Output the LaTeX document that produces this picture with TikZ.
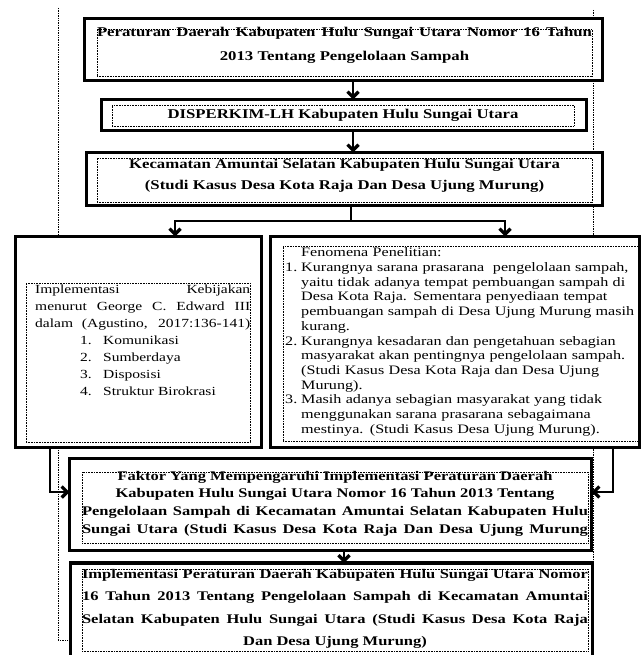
\documentclass[tikz,border=0pt]{standalone}
\usepackage{fontspec}
\setmainfont{Liberation Serif}[FakeStretch=1.25]
\usetikzlibrary{arrows.meta,calc}
\newcommand{\jline}[2]{\makebox[#1][s]{\spaceskip=.25em plus 1fil minus .05em\relax #2}}
\begin{document}
\begin{tikzpicture}[x=1pt,y=-1pt,
  boxfr/.style={draw, line width=3.1pt, fill=white, inner sep=0pt, outer sep=0pt},
  dotfr/.style={draw, line width=0.7pt, dash pattern=on 0.7pt off 0.9pt, inner sep=0pt, outer sep=0pt},
  guide/.style={line width=0.8pt, dash pattern=on 0.8pt off 0.9pt},
  conn/.style={line width=2.8pt},
  arr/.style={line width=2.8pt, -{Straight Barb[length=5.5pt,width=11pt,line width=3.2pt]}},
  btext/.style={font=\bfseries\fontsize{13.4}{24}\selectfont, align=center, inner sep=0pt},
  ntext/.style={align=left, inner sep=0pt, anchor=west}
]
\useasboundingbox (0,0) rectangle (643,655);

% outer dotted guide lines (behind)
\coordinate (gl0) at (58,8);
\coordinate (gl1) at (58,640);
\coordinate (gr0) at (593,10);
\coordinate (gr1) at (593,563);

% boxes
\node[boxfr, minimum width=518pt, minimum height=62pt] (b1) at (343.5,49.5) {};
\node[boxfr, minimum width=485pt, minimum height=31pt] (b2) at (344,115) {};
\node[boxfr, minimum width=516pt, minimum height=53pt] (b3) at (344.5,179) {};
\node[boxfr, minimum width=246pt, minimum height=211pt] (bl) at (138.5,342) {};
\node[boxfr, minimum width=369pt, minimum height=211pt] (br) at (455,342) {};
\node[boxfr, minimum width=522pt, minimum height=92pt] (b5) at (330.5,504.5) {};
\node[boxfr, minimum width=522pt, minimum height=94pt] (b6) at (331.5,610) {};

\draw[guide] (gl0) -- (gl1) -- (b6.west |- gl1);
\draw[guide] (gr0) -- (gr1);
% redraw boxes over guides
\node[boxfr, minimum width=518pt, minimum height=62pt] at (343.5,49.5) {};
\node[boxfr, minimum width=485pt, minimum height=31pt] at (344,115) {};
\node[boxfr, minimum width=516pt, minimum height=53pt] at (344.5,179) {};
\node[boxfr, minimum width=246pt, minimum height=211pt] at (138.5,342) {};
\node[boxfr, minimum width=369pt, minimum height=211pt] at (455,342) {};
\node[boxfr, minimum width=522pt, minimum height=92pt] at (330.5,504.5) {};
\node[boxfr, minimum width=522pt, minimum height=94pt] at (331.5,610) {};

% inner dotted frames
\node[dotfr, minimum width=495pt, minimum height=47pt] (f1) at (344.5,52.5) {};
\node[dotfr, minimum width=462pt, minimum height=21pt] (f2) at (343,115.5) {};
\node[dotfr, minimum width=495pt, minimum height=44pt] (f3) at (344.5,180) {};
\node[dotfr, minimum width=224pt, minimum height=159pt] (fl) at (138,362.5) {};
\node[dotfr, minimum width=355pt, minimum height=195pt] (fr) at (460.5,343.5) {};
\node[dotfr, minimum width=506pt, minimum height=71pt] (f5) at (335,507.5) {};
\node[dotfr, minimum width=506pt, minimum height=82pt] (f6) at (335,610) {};

% texts
\node[btext] (t1) at (344.5,45) {\jline{495pt}{Peraturan Daerah Kabupaten Hulu Sungai Utara Nomor 16 Tahun}\\2013 Tentang Pengelolaan Sampah};
\node[btext] (t2) at (343,115) {DISPERKIM-LH Kabupaten Hulu Sungai Utara};
\node[btext, font=\bfseries\fontsize{13.4}{21}\selectfont] (t3) at (344.5,175.5) {Kecamatan Amuntai Selatan Kabupaten Hulu Sungai Utara\\(Studi Kasus Desa Kota Raja Dan Desa Ujung Murung)};

\node[ntext, text width=215pt, font=\fontsize{12.4}{17}\selectfont] (tl) at (35,340) {%
\jline{215pt}{Implementasi Kebijakan}\\
\jline{215pt}{menurut George C. Edward III}\\
\jline{215pt}{dalam (Agustino, 2017:136-141)}\\
\hspace*{45pt}\makebox[23pt][l]{1.}Komunikasi\\
\hspace*{45pt}\makebox[23pt][l]{2.}Sumberdaya\\
\hspace*{45pt}\makebox[23pt][l]{3.}Disposisi\\
\hspace*{45pt}\makebox[23pt][l]{4.}Struktur Birokrasi};

\node[ntext, text width=356pt, font=\fontsize{12.9}{14.7}\selectfont] (tr) at (285,342) {%
\hspace*{16pt}Fenomena Penelitian:\\
\makebox[16pt][l]{1.}Kurangnya sarana prasarana\ \ pengelolaan sampah,\\
\hspace*{16pt}yaitu tidak adanya tempat pembuangan sampah di\\
\hspace*{16pt}Desa Kota Raja. Sementara penyediaan tempat\\
\hspace*{16pt}pembuangan sampah di Desa Ujung Murung masih\\
\hspace*{16pt}kurang.\\
\makebox[16pt][l]{2.}Kurangnya kesadaran dan pengetahuan sebagian\\
\hspace*{16pt}masyarakat akan pentingnya pengelolaan sampah.\\
\hspace*{16pt}(Studi Kasus Desa Kota Raja dan Desa Ujung\\
\hspace*{16pt}Murung).\\
\makebox[16pt][l]{3.}Masih adanya sebagian masyarakat yang tidak\\
\hspace*{16pt}menggunakan sarana prasarana sebagaimana\\
\hspace*{16pt}mestinya. (Studi Kasus Desa Ujung Murung).};

\node[btext, font=\bfseries\fontsize{13.2}{17.7}\selectfont] (t5) at (335,503.5) {%
Faktor Yang Mempengaruhi Implementasi Peraturan Daerah\\
Kabupaten Hulu Sungai Utara Nomor 16 Tahun 2013 Tentang\\
\jline{506pt}{Pengelolaan Sampah di Kecamatan Amuntai Selatan Kabupaten Hulu}\\
\jline{506pt}{Sungai Utara (Studi Kasus Desa Kota Raja Dan Desa Ujung Murung}};

\node[btext, font=\bfseries\fontsize{13.2}{22.3}\selectfont] (t6) at (335,609) {%
\jline{506pt}{Implementasi Peraturan Daerah Kabupaten Hulu Sungai Utara Nomor}\\
\jline{506pt}{16 Tahun 2013 Tentang Pengelolaan Sampah di Kecamatan Amuntai}\\
\jline{506pt}{Selatan Kabupaten Hulu Sungai Utara (Studi Kasus Desa Kota Raja}\\
Dan Desa Ujung Murung)};

% connectors
\coordinate (ax) at (353,0);
\coordinate (s) at (351,221);
\coordinate (sL) at (175,221);
\coordinate (sR) at (505,221);
\coordinate (jL) at (50,492);
\coordinate (jR) at (613,492);
\coordinate (ax6) at (344,0);

\draw[arr] (b1.south -| ax) -- (b2.north -| ax);
\draw[arr] (b2.south -| ax) -- (b3.north -| ax);
\draw[conn] (b3.south -| s) -- (s);
\draw[conn, line cap=rect] (sL) -- (sR);
\draw[arr] (sL) -- (bl.north -| sL);
\draw[arr] (sR) -- (br.north -| sR);
\draw[arr] (bl.south -| jL) |- (b5.west |- jL);
\draw[arr] (br.south -| jR) |- (b5.east |- jR);
\draw[arr] (b5.south -| ax6) -- (b6.north -| ax6);
\end{tikzpicture}
\end{document}
